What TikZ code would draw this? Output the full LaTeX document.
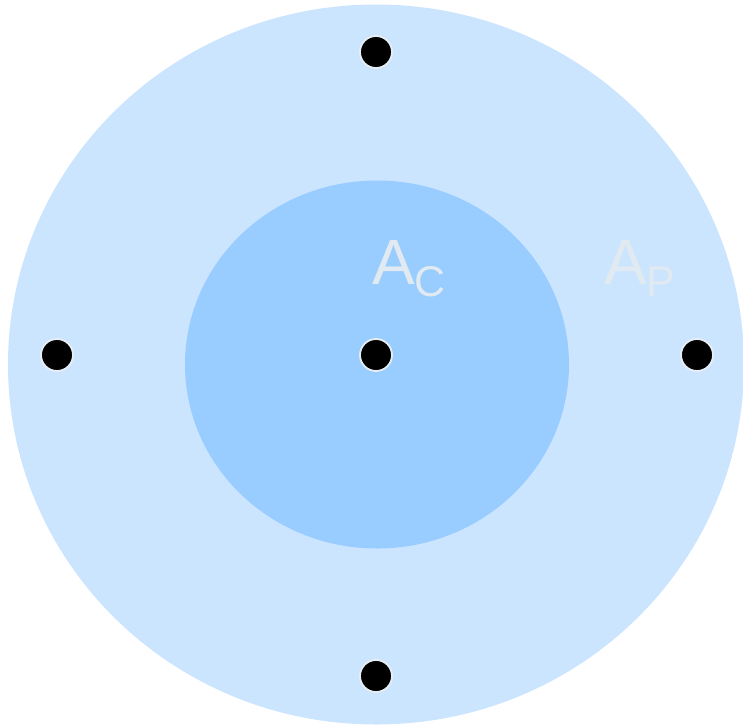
\documentclass[tikz,border=0pt]{standalone}
\usepackage{fontspec}
\setmainfont{Liberation Sans}
\definecolor{outerc}{HTML}{CCE5FF}
\definecolor{innerc}{HTML}{99CCFF}
\definecolor{labc}{HTML}{E1EAF0}
\definecolor{ringc}{HTML}{E6EEF4}
\begin{document}
\begin{tikzpicture}[x=1pt,y=-1pt,
  dot/.style={circle,fill=black,draw=ringc,line width=1.8pt,minimum size=32pt,inner sep=0pt},
  lab/.style={text=labc,inner sep=0pt,anchor=base west,font=\fontsize{64}{70}\selectfont}]
\useasboundingbox (0,0) rectangle (743,725);
\fill[outerc] (376,364.5) ellipse [x radius=368, y radius=360];
\fill[innerc] (377,364.5) ellipse [x radius=192, y radius=184];
\node[lab] (ac) at (372,284) {A\raisebox{-12pt}{\fontsize{43}{46}\selectfont C}};
\node[lab] (ap) at (604,284) {A\raisebox{-12pt}{\fontsize{43}{46}\selectfont P}};
\node[dot] (top) at (376,52) {};
\node[dot] (left) at (57,355) {};
\node[dot] (center) at (376,355) {};
\node[dot] (right) at (697,355) {};
\node[dot] (bottom) at (376,676) {};
\end{tikzpicture}
\end{document}
